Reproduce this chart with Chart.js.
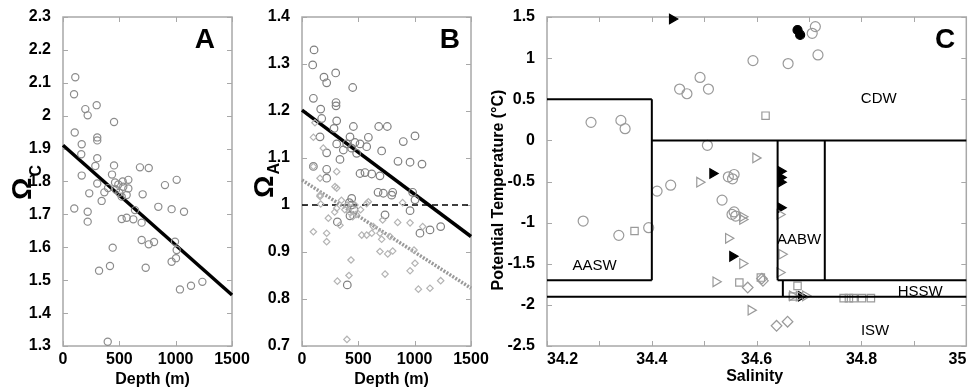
<!DOCTYPE html>
<html>
<head>
<meta charset="utf-8">
<script src="https://cdn.jsdelivr.net/npm/chart.js@4.4.0/dist/chart.umd.min.js"></script>
<style>
  html, body { margin: 0; padding: 0; background: #fff; }
  #wrap { position: relative; width: 973px; height: 387px; overflow: hidden; }
  canvas { position: absolute; top: 0; }
</style>
</head>
<body>
<div id="wrap">
  <canvas id="chartA" width="260" height="387" style="left:0"></canvas>
  <canvas id="chartB" width="250" height="387" style="left:240px"></canvas>
  <canvas id="chartC" width="493" height="387" style="left:480px"></canvas>
</div>
<script>
// ---- panel A : omega calcite vs depth
const depthA = [109, 98, 198, 299, 219, 453, 104, 304, 304, 166, 162, 304, 287, 453, 683, 761, 166, 435, 304, 462,
  491, 580, 535, 580, 367, 233, 500, 565, 521, 707, 905, 1009, 343, 100, 219, 219, 846, 964, 1074, 521,
  565, 624, 698, 639, 698, 761, 808, 441, 320, 417, 734, 994, 1009, 1003, 964, 1038, 1136, 1237, 397, 400, 470, 530];
const omegaC = [2.117, 2.065, 2.02, 2.032, 2.001, 1.981, 1.949, 1.934, 1.925, 1.913, 1.883, 1.871, 1.847, 1.849, 1.843, 1.841, 1.818, 1.821, 1.794, 1.797,
  1.791, 1.805, 1.784, 1.779, 1.767, 1.764, 1.766, 1.759, 1.754, 1.761, 1.789, 1.805, 1.741, 1.718, 1.708, 1.678, 1.723, 1.716, 1.708, 1.686,
  1.69, 1.685, 1.675, 1.713, 1.622, 1.609, 1.616, 1.599, 1.529, 1.543, 1.538, 1.617, 1.592, 1.567, 1.556, 1.472, 1.483, 1.495, 1.313, 1.78, 1.775, 1.80];
const fitDepth = [0, 1500];
const fitOmegaC = [1.91, 1.455];

// ---- panel B : omega aragonite vs depth
const depthBCircle = [107, 95, 195, 219, 299, 450, 101, 166, 302, 302, 175, 308, 456, 681, 757, 160, 284, 426, 589, 899,
  1003, 308, 219, 397, 470, 515, 574, 441, 367, 707, 485, 337, 101, 219, 852, 959, 1065, 515, 559, 619,
  692, 219, 675, 722, 805, 982, 1003, 441, 441, 426, 314, 737, 959, 1047, 1136, 1231, 402, 420, 460, 796];
const omegaACircle = [1.33, 1.298, 1.272, 1.26, 1.281, 1.25, 1.227, 1.204, 1.218, 1.211, 1.184, 1.179, 1.167, 1.167, 1.167, 1.145, 1.163, 1.145, 1.144, 1.135,
  1.147, 1.13, 1.111, 1.13, 1.133, 1.13, 1.124, 1.121, 1.117, 1.115, 1.11, 1.097, 1.082, 1.076, 1.093, 1.091, 1.087, 1.067, 1.069, 1.066,
  1.062, 1.057, 1.027, 1.025, 1.027, 1.027, 1.011, 1.014, 1.0, 0.977, 0.964, 0.979, 0.988, 0.94, 0.947, 0.954, 0.83, 1.005, 0.99, 1.021];
const depthBDiamond = [115, 101, 189, 308, 101, 160, 308, 160, 101, 219, 219, 234, 337, 308, 589, 530, 574, 619, 692, 716,
  707, 781, 692, 805, 761, 849, 959, 1071, 994, 1003, 959, 737, 435, 417, 314, 1033, 1136, 1231, 399, 166,
  160, 893, 574, 633, 380, 420, 450, 480, 400, 520, 350, 290, 470, 293];
const omegaADiamond = [1.175, 1.144, 1.121, 1.071, 1.082, 1.057, 1.036, 1.018, 0.943, 0.94, 0.922, 0.972, 0.957, 0.993, 1.007, 0.936, 0.936, 0.94, 0.94, 0.968,
  0.927, 0.933, 0.901, 0.902, 0.896, 0.963, 0.962, 0.954, 0.904, 0.876, 0.86, 0.853, 0.883, 0.85, 0.838, 0.821, 0.823, 0.839, 0.714, 1.002,
  1.021, 1.005, 1.003, 0.954, 0.99, 0.985, 0.975, 0.98, 1.0, 0.99, 1.01, 0.985, 1.0, 1.039];
const fitOmegaA = [1.202, 0.933];
const fitOmegaALow = [1.053, 0.823];
const saturation = [1, 1];

// ---- panel C : potential temperature vs salinity
const salCircle = [34.284, 34.341, 34.349, 34.453, 34.467, 34.492, 34.508, 34.506, 34.41, 34.436, 34.269, 34.337, 34.394, 34.534, 34.712, 34.706, 34.717, 34.593, 34.66, 34.546, 34.557, 34.554, 34.557, 34.56, 34.553];
const tempCircle = [0.219, 0.243, 0.142, 0.624, 0.567, 0.765, 0.624, -0.06, -0.617, -0.545, -0.981, -1.155, -1.062, -0.726, 1.383, 1.302, 1.039, 0.97, 0.934, -0.443, -0.415, -0.467, -0.87, -0.92, -0.9];
const salFilledCircle = [34.678, 34.683];
const tempFilledCircle = [1.342, 1.282];
const salSquare = [34.367, 34.617, 34.567, 34.608, 34.678, 34.669, 34.766, 34.776, 34.785, 34.801, 34.818];
const tempSquare = [-1.102, 0.3, -1.728, -1.668, -1.769, -1.898, -1.918, -1.918, -1.918, -1.918, -1.918];
const salDiamond = [34.583, 34.612, 34.61, 34.638, 34.659];
const tempDiamond = [-1.789, -1.708, -1.68, -2.254, -2.205];
const salTriangle = [34.491, 34.598, 34.573, 34.546, 34.573, 34.522, 34.589, 34.644, 34.648, 34.644, 34.668, 34.681, 34.693, 34.573];
const tempTriangle = [-0.508, -0.213, -0.961, -1.191, -1.498, -1.72, -2.064, -0.9, -1.385, -1.607, -1.89, -1.893, -1.89, -0.928];
const salFilledTriangle = [34.439, 34.516, 34.554, 34.646, 34.646, 34.646, 34.646, 34.685];
const tempFilledTriangle = [1.476, -0.403, -1.41, -0.375, -0.45, -0.508, -0.82, -1.895];

// water mass boundaries [s1, t1, s2, t2]
const boxSegments = [
  [34.2, 0.5, 34.4, 0.5], [34.4, 0.5, 34.4, -1.7], [34.2, -1.7, 34.4, -1.7],
  [34.4, 0, 35, 0], [34.2, -1.9, 35, -1.9],
  [34.64, 0, 34.64, -1.7], [34.73, 0, 34.73, -1.7], [34.64, -1.7, 35, -1.7],
  [34.65, -1.7, 34.65, -1.9]
];
const waterMassNames = ['CDW', 'AASW', 'AABW', 'HSSW', 'ISW'];
const waterMassSal = [34.833, 34.291, 34.681, 34.912, 34.826];
const waterMassTemp = [0.5, -1.52, -1.215, -1.84, -2.31];

// ---- ticks
const depthTicks = [0, 500, 1000, 1500];
const omegaCTicks = [1.3, 1.4, 1.5, 1.6, 1.7, 1.8, 1.9, 2, 2.1, 2.2, 2.3];
const omegaATicks = [0.7, 0.8, 0.9, 1, 1.1, 1.2, 1.3, 1.4];
const salTicks = [34.2, 34.3, 34.4, 34.5, 34.6, 34.7, 34.8, 34.9, 35];
const salTickLabels = ['34.2', '', '34.4', '', '34.6', '', '34.8', '', '35'];
const tempTicks = [-2.5, -2, -1.5, -1, -0.5, 0, 0.5, 1, 1.5];

const FONT = "'Liberation Sans', Arial, Helvetica, sans-serif";
const zip = (xs, ys) => xs.map((v, i) => ({ x: v, y: ys[i] }));

const matlabAxes = {
  id: 'matlabAxes',
  beforeDatasetsDraw(chart) {
    const { ctx, chartArea: a, scales: { x, y } } = chart;
    ctx.save();
    ctx.strokeStyle = '#a8a8a8';
    ctx.lineWidth = 1;
    ctx.beginPath();
    x.ticks.forEach(t => {
      const p = Math.round(x.getPixelForValue(t.value)) + 0.5;
      ctx.moveTo(p, a.bottom); ctx.lineTo(p, a.bottom - 5);
      ctx.moveTo(p, a.top); ctx.lineTo(p, a.top + 5);
    });
    y.ticks.forEach(t => {
      const p = Math.round(y.getPixelForValue(t.value)) + 0.5;
      ctx.moveTo(a.left, p); ctx.lineTo(a.left + 5, p);
      ctx.moveTo(a.right, p); ctx.lineTo(a.right - 5, p);
    });
    ctx.stroke();
    ctx.lineWidth = 1.5;
    ctx.strokeRect(a.left, a.top, a.right - a.left, a.bottom - a.top);
    ctx.restore();
  },
  afterDraw(chart, args, o) {
    const { ctx, chartArea: a, scales: { x, y } } = chart;
    ctx.save();
    ctx.fillStyle = '#000';
    if (o.letter) {
      ctx.font = 'bold 28px ' + FONT;
      ctx.textAlign = 'right';
      ctx.textBaseline = 'alphabetic';
      ctx.fillText(o.letter, a.right + o.letterDx, a.top + 31);
    }
    if (o.xTitle) {
      ctx.font = 'bold 16px ' + FONT;
      ctx.textAlign = 'center';
      ctx.textBaseline = 'alphabetic';
      ctx.fillText(o.xTitle, (a.left + a.right) / 2 + o.xTitleDx, o.xTitleY);
    }
    if (o.omegaSub) {
      ctx.save();
      ctx.translate(o.omegaX, o.omegaY);
      ctx.rotate(-Math.PI / 2);
      ctx.font = 'bold 28px ' + FONT;
      ctx.textAlign = 'left';
      ctx.textBaseline = 'alphabetic';
      ctx.fillText('\u03A9', 0, 0);
      const w = ctx.measureText('\u03A9').width;
      ctx.font = 'bold 16px ' + FONT;
      ctx.fillText(o.omegaSub, w + 1, o.subDy);
      ctx.restore();
    }
    if (o.yTitle) {
      ctx.save();
      ctx.translate(o.yTitleX, o.yTitleY);
      ctx.rotate(-Math.PI / 2);
      ctx.font = 'bold 16px ' + FONT;
      ctx.textAlign = 'center';
      ctx.textBaseline = 'middle';
      ctx.fillText(o.yTitle, 0, 0);
      ctx.restore();
    }
    if (o.names) {
      ctx.font = '15px ' + FONT;
      ctx.textAlign = 'center';
      ctx.textBaseline = 'middle';
      o.names.forEach((n, i) => {
        ctx.fillText(n, x.getPixelForValue(o.namesX[i]), y.getPixelForValue(o.namesY[i]));
      });
    }
    ctx.restore();
  }
};

function axis(min, max, ticks, labels, size, isX, align) {
  return {
    type: 'linear',
    min: min,
    max: max,
    afterBuildTicks: s => { s.ticks = ticks.map(v => ({ value: v })); },
    afterFit: s => {
      if (isX) s.height = size; else s.width = size;
      s.paddingLeft = 0; s.paddingRight = 0; s.paddingTop = 0; s.paddingBottom = 0;
    },
    grid: { display: false },
    border: { display: false },
    ticks: {
      autoSkip: false,
      maxRotation: 0,
      minRotation: 0,
      padding: isX ? -4 : 4,
      align: align || 'center',
      color: '#000',
      font: { family: FONT, size: 16, weight: 'bold' },
      callback: (v, i) => labels ? labels[i] : String(v)
    }
  };
}

function scatterSet(data, style, color, radius, fill) {
  return {
    type: 'scatter',
    data: data,
    pointStyle: style,
    pointRadius: radius,
    pointHoverRadius: radius,
    pointBorderWidth: 1.2,
    borderColor: color,
    backgroundColor: fill ? color : 'rgba(0,0,0,0)',
    pointRotation: style === 'triangle' ? 90 : 0,
    clip: false
  };
}

function lineSet(xs, ys, color, width, dash) {
  return {
    type: 'line',
    data: zip(xs, ys),
    borderColor: color,
    borderWidth: width,
    borderDash: dash || [],
    pointRadius: 0,
    fill: false,
    tension: 0,
    clip: false
  };
}

function baseOptions(xScale, yScale, padRight, plug) {
  return {
    responsive: false,
    animation: false,
    events: [],
    layout: { padding: { top: 17, right: padRight, left: 0, bottom: 0 } },
    scales: { x: xScale, y: yScale },
    plugins: { legend: { display: false }, tooltip: { enabled: false }, matlabAxes: plug }
  };
}

new Chart(document.getElementById('chartA'), {
  type: 'scatter',
  data: {
    datasets: [
      scatterSet(zip(depthA, omegaC), 'circle', '#8c8c8c', 3.6, false),
      lineSet(fitDepth, fitOmegaC, '#000', 3.5)
    ]
  },
  options: baseOptions(
    axis(0, 1500, depthTicks, null, 41, true),
    axis(1.3, 2.3, omegaCTicks, null, 63, false),
    28,
    { letter: 'A', letterDx: -17, xTitle: 'Depth (m)', xTitleDx: 5, xTitleY: 384,
      omegaSub: 'C', omegaX: 31, omegaY: 200, subDy: 10 }
  ),
  plugins: [matlabAxes]
});

new Chart(document.getElementById('chartB'), {
  type: 'scatter',
  data: {
    datasets: [
      scatterSet(zip(depthBDiamond, omegaADiamond), 'rectRot', '#b4b4b4', 3.2, false),
      scatterSet(zip(depthBCircle, omegaACircle), 'circle', '#808080', 3.8, false),
      lineSet(fitDepth, fitOmegaALow, '#9a9a9a', 3.5, [2, 1.5]),
      lineSet(fitDepth, saturation, '#000', 1.5, [6, 4]),
      lineSet(fitDepth, fitOmegaA, '#000', 3.5)
    ]
  },
  options: baseOptions(
    axis(0, 1500, depthTicks, null, 41, true),
    axis(0.7, 1.4, omegaATicks, null, 62, false),
    19,
    { letter: 'B', letterDx: -11, xTitle: 'Depth (m)', xTitleDx: 5, xTitleY: 384,
      omegaSub: 'A', omegaX: 33, omegaY: 198, subDy: 6 }
  ),
  plugins: [matlabAxes]
});

const boxSets = boxSegments.map(s => lineSet([s[0], s[2]], [s[1], s[3]], '#000', 2));

new Chart(document.getElementById('chartC'), {
  type: 'scatter',
  data: {
    datasets: boxSets.concat([
      scatterSet(zip(salCircle, tempCircle), 'circle', '#9a9a9a', 5, false),
      scatterSet(zip(salSquare, tempSquare), 'rect', '#9a9a9a', 5.2, false),
      scatterSet(zip(salDiamond, tempDiamond), 'rectRot', '#9a9a9a', 5.3, false),
      scatterSet(zip(salTriangle, tempTriangle), 'triangle', '#9a9a9a', 5.5, false),
      scatterSet(zip(salFilledTriangle, tempFilledTriangle), 'triangle', '#000', 5.5, true),
      scatterSet(zip(salFilledCircle, tempFilledCircle), 'circle', '#000', 4.5, true)
    ])
  },
  options: baseOptions(
    axis(34.2, 35, salTicks, salTickLabels, 41, true, 'inner'),
    axis(-2.5, 1.5, tempTicks, null, 67, false),
    5,
    { letter: 'C', letterDx: -11, xTitle: 'Salinity', xTitleDx: -2, xTitleY: 381,
      yTitle: 'Potential Temperature (\u00B0C)', yTitleX: 19, yTitleY: 190,
      names: waterMassNames, namesX: waterMassSal, namesY: waterMassTemp }
  ),
  plugins: [matlabAxes]
});
</script>
</body>
</html>
